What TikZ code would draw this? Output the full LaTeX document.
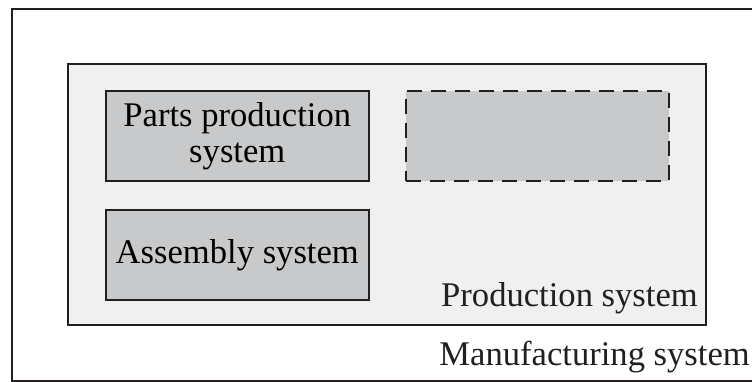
\documentclass[tikz,border=0pt]{standalone}
\usepackage{fontspec}
\setmainfont{Liberation Serif}
\definecolor{edgegray}{HTML}{231F20}
\definecolor{prodgray}{HTML}{F0F0F0}
\definecolor{boxgray}{HTML}{C8C9CB}
\tikzset{
  sysbox/.style={rectangle, draw=edgegray, line width=1.6pt, fill=boxgray, anchor=north west,
    inner sep=0pt, align=center, minimum width=263pt, minimum height=90pt},
  lbl/.style={inner sep=0pt, text=edgegray}
}
\begin{document}
\begin{tikzpicture}[x=1pt, y=-1pt, font=\fontsize{34.6}{36}\selectfont]
\useasboundingbox (0,0) rectangle (752,381);
\node (mfg) [rectangle, draw=edgegray, line width=1.6pt, anchor=north west, minimum width=760pt, minimum height=372pt] at (11,8) {};
\node (prod) [rectangle, draw=edgegray, line width=1.6pt, fill=prodgray, anchor=north west, minimum width=638pt, minimum height=261pt] at (67,63) {};
\node (parts) [sysbox] at (105,90) {Parts production\\system};
\node (assy) [sysbox] at (105,209) {Assembly system};
\node (spare) [sysbox, dash pattern=on 15pt off 9pt] at (405,90) {};
\node (prodlbl) [lbl, anchor=base east] at (698,306) {Production system};
\node (mfglbl) [lbl, anchor=base east] at (750,365) {Manufacturing system};
\end{tikzpicture}
\end{document}
